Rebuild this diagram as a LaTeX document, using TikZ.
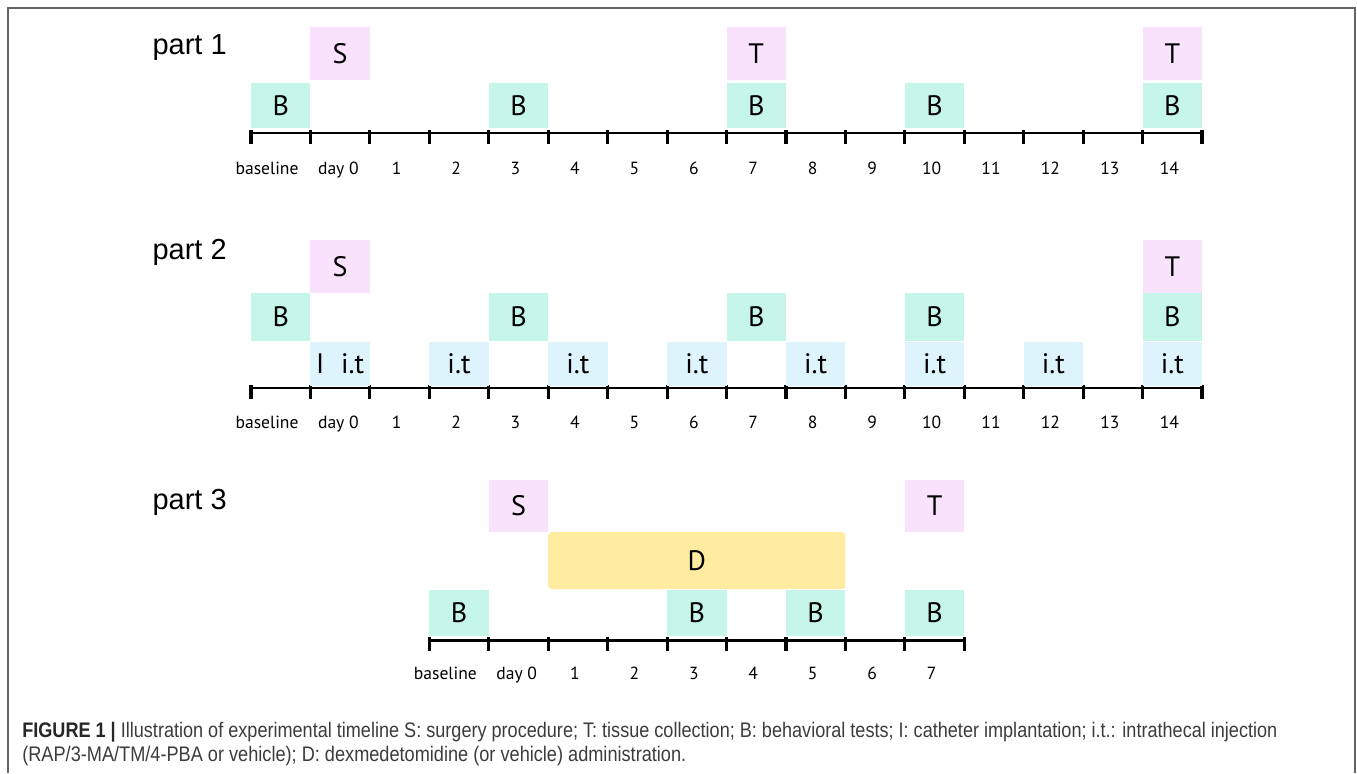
\documentclass[tikz,border=0pt]{standalone}
\usepackage{fontspec}
\setmainfont{PT Sans}
\newfontfamily\capfont{Liberation Sans}
\usepackage{graphicx}
\usetikzlibrary{positioning}

\definecolor{behavcol}{RGB}{198,246,234}
\definecolor{surgcol}{RGB}{248,226,252}
\definecolor{injcol}{RGB}{222,244,252}
\definecolor{dexcol}{RGB}{255,236,160}
\definecolor{framecol}{RGB}{100,100,100}
\definecolor{capcol}{RGB}{60,60,60}

\begin{document}
\begin{tikzpicture}[x=1.1888cm, y=-0.02cm,
        box/.style={inner sep=0pt, minimum width=1.1888cm, font=\fontsize{16}{17}\selectfont},
        behav/.style={box, fill=behavcol},
        surg/.style={box, fill=surgcol},
        inj/.style={box, fill=injcol},
        dex/.style={box, fill=dexcol, rounded corners=2pt, minimum width=5.944cm},
        axisline/.style={line width=1.6pt},
        daytick/.style={line width=1.8pt},
        daylabel/.style={anchor=base, font=\fontsize{10}{11}\selectfont},
        partlabel/.style={anchor=base west, font=\capfont\fontsize{16.5}{19}\selectfont}]

        \useasboundingbox (-4.2227,0) rectangle (18.607,773);

        % frame
        \path[draw, framecol, line width=0.8pt] (-4.088,773) -- (-4.088,8) -- (18.573,8) -- (18.573,773);

        % part 1
        \node[partlabel] (part1) at (-1.76,54) {part 1};
        \draw[axisline] (0,133) -- (16,133);
        \foreach \i in {0,...,16}
            \draw[daytick] (\i,130) -- (\i,144);

        \node[behav, minimum height=0.9cm] (p1b0) at (0.5,105.5) {B};
        \node[behav, minimum height=0.9cm] (p1b3) at (4.5,105.5) {B};
        \node[behav, minimum height=0.9cm] (p1b7) at (8.5,105.5) {B};
        \node[behav, minimum height=0.9cm] (p1b10) at (11.5,105.5) {B};
        \node[behav, minimum height=0.9cm] (p1b14) at (15.5,105.5) {B};
        \node[surg, minimum height=1.06cm] (p1s) at (1.5,53.5) {S};
        \node[surg, minimum height=1.06cm] (p1t7) at (8.5,53.5) {T};
        \node[surg, minimum height=1.06cm] (p1t14) at (15.5,53.5) {T};

        \node[daylabel] (p1l0) at (0.27,174) {baseline};
        \node[daylabel] (p1l1) at (1.47,174) {day 0};
        \foreach \d in {1,...,14}
            \node[daylabel] (p1l\d) at (\d+1.45,174) {\d};

        % part 2
        \node[partlabel] (part2) at (-1.76,259) {part 2};
        \draw[axisline] (0,388) -- (16,388);
        \foreach \i in {0,...,16}
            \draw[daytick] (\i,385) -- (\i,399);

        \node[behav, minimum height=0.96cm] (p2b0) at (0.5,317) {B};
        \node[behav, minimum height=0.96cm] (p2b3) at (4.5,317) {B};
        \node[behav, minimum height=0.96cm] (p2b7) at (8.5,317) {B};
        \node[behav, minimum height=0.96cm] (p2b10) at (11.5,317) {B};
        \node[behav, minimum height=0.96cm] (p2b14) at (15.5,317) {B};
        \node[surg, minimum height=1.06cm] (p2s) at (1.5,266.5) {S};
        \node[surg, minimum height=1.06cm] (p2t14) at (15.5,266.5) {T};

        \node[inj, minimum height=0.88cm] (p2i0) at (1.5,364) {I\hspace{0.6em}i.t};
        \foreach \d in {2,4,...,14}
            \node[inj, minimum height=0.88cm] (p2i\d) at (\d+1.5,364) {i.t};

        \node[daylabel] (p2l0) at (0.27,428) {baseline};
        \node[daylabel] (p2l1) at (1.47,428) {day 0};
        \foreach \d in {1,...,14}
            \node[daylabel] (p2l\d) at (\d+1.45,428) {\d};

        % part 3
        \node[partlabel] (part3) at (-1.76,509) {part 3};
        \draw[axisline] (3,640) -- (12,640);
        \foreach \i in {3,...,12}
            \draw[daytick] (\i,637) -- (\i,651);

        \node[behav, minimum height=0.92cm] (p3b0) at (3.5,613) {B};
        \node[behav, minimum height=0.92cm] (p3b3) at (7.5,613) {B};
        \node[behav, minimum height=0.92cm] (p3b5) at (9.5,613) {B};
        \node[behav, minimum height=0.92cm] (p3b7) at (11.5,613) {B};
        \node[dex, minimum height=1.14cm] (p3d) at (7.5,560.5) {D};
        \node[surg, minimum height=1.04cm] (p3s) at (4.5,506) {S};
        \node[surg, minimum height=1.04cm] (p3t7) at (11.5,506) {T};

        \node[daylabel] (p3l0) at (3.27,679) {baseline};
        \node[daylabel] (p3l1) at (4.47,679) {day 0};
        \foreach \d in {1,...,7}
            \node[daylabel] (p3l\d) at (\d+4.45,679) {\d};

        % caption
        \node[anchor=base west, inner sep=0pt, text=capcol] (cap1) at (-3.853,737)
            {\resizebox{25.1cm}{\height}{\capfont\fontsize{12}{14}\selectfont\textbf{\color{black!85}FIGURE 1 |} Illustration of experimental timeline S: surgery procedure; T: tissue collection; B: behavioral tests; I: catheter implantation; i.t.: intrathecal injection}};
        \node[anchor=base west, inner sep=0pt, text=capcol] (cap2) at (-3.853,761)
            {\resizebox{13.28cm}{\height}{\capfont\fontsize{12}{14}\selectfont (RAP/3-MA/TM/4-PBA or vehicle); D: dexmedetomidine (or vehicle) administration.}};

\end{tikzpicture}
\end{document}
